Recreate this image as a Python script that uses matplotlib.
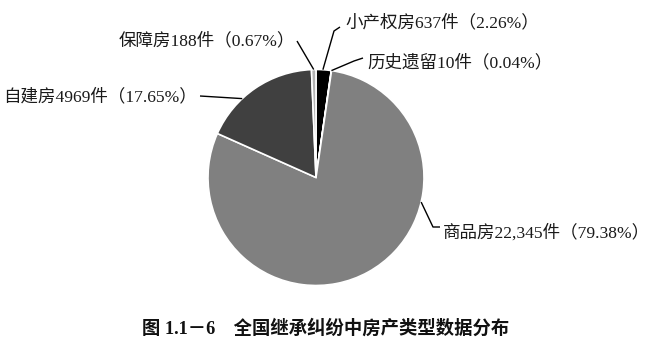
import matplotlib.pyplot as plt
import numpy as np

# 房产类型 / 件数 / 占比
types = ["小产权房", "历史遗留", "商品房", "自建房", "保障房"]
counts = [637, 10, 22345, 4969, 188]
shares = [2.26, 0.04, 79.38, 17.65, 0.67]
count_text = ["637", "10", "22,345", "4969", "188"]
colors = ["#000000", "#d9d9d9", "#808080", "#404040", "#b3b3b3"]

title = "图 1.1－6　全国继承纠纷中房产类型数据分布"

W, H = 664, 348
cx, cy, r = 316, 177.5, 108

fig = plt.figure(figsize=(W / 100, H / 100), dpi=100)
ax = fig.add_axes([0, 0, 1, 1])

wedges, _ = ax.pie(shares, colors=colors, startangle=90, counterclock=False,
                   center=(cx, H - cy), radius=r,
                   wedgeprops=dict(edgecolor="white", linewidth=1.2))

ax.set_xlim(0, W)
ax.set_ylim(0, H)
ax.set_aspect("equal")
ax.axis("off")

fam = ["Liberation Serif", "Noto Sans CJK SC"]

# 引线在扇区上的落点(扇区内的相对位置), 引线折点, 文字位置
anchor_frac = [0.55, 0.5, 0.668, 0.64, 0.5]
bends = [[(340, 27), (334, 31)], [(363, 58), (354, 61)], [(440, 227), (433, 227)],
         [(200, 96)], [(297, 41)]]
text_pos = [(345, 23, "left"), (367, 63, "left"), (443, 233, "left"),
            (197, 97, "right"), (295, 41, "right")]

for w, t, n, s, f, pts, (tx, ty, ha) in zip(wedges, types, count_text, shares,
                                             anchor_frac, bends, text_pos):
    ang = np.deg2rad(w.theta1 + f * (w.theta2 - w.theta1))
    ex = cx + r * np.cos(ang)
    ey = H - cy + r * np.sin(ang)
    xs = [p[0] for p in pts] + [ex]
    ys = [H - p[1] for p in pts] + [ey]
    ax.plot(xs, ys, color="black", linewidth=1.0, solid_capstyle="butt")
    ax.text(tx, H - ty, f"{t}{n}件（{s:.2f}%）", ha=ha, va="center",
            fontsize=12.6, family=fam, color="#1a1a1a")

ax.text(326, H - 328, title, ha="center", va="center", fontsize=13.2,
        family=fam, fontweight="bold", color="#111111")

fig.savefig("out.png", dpi=100)
